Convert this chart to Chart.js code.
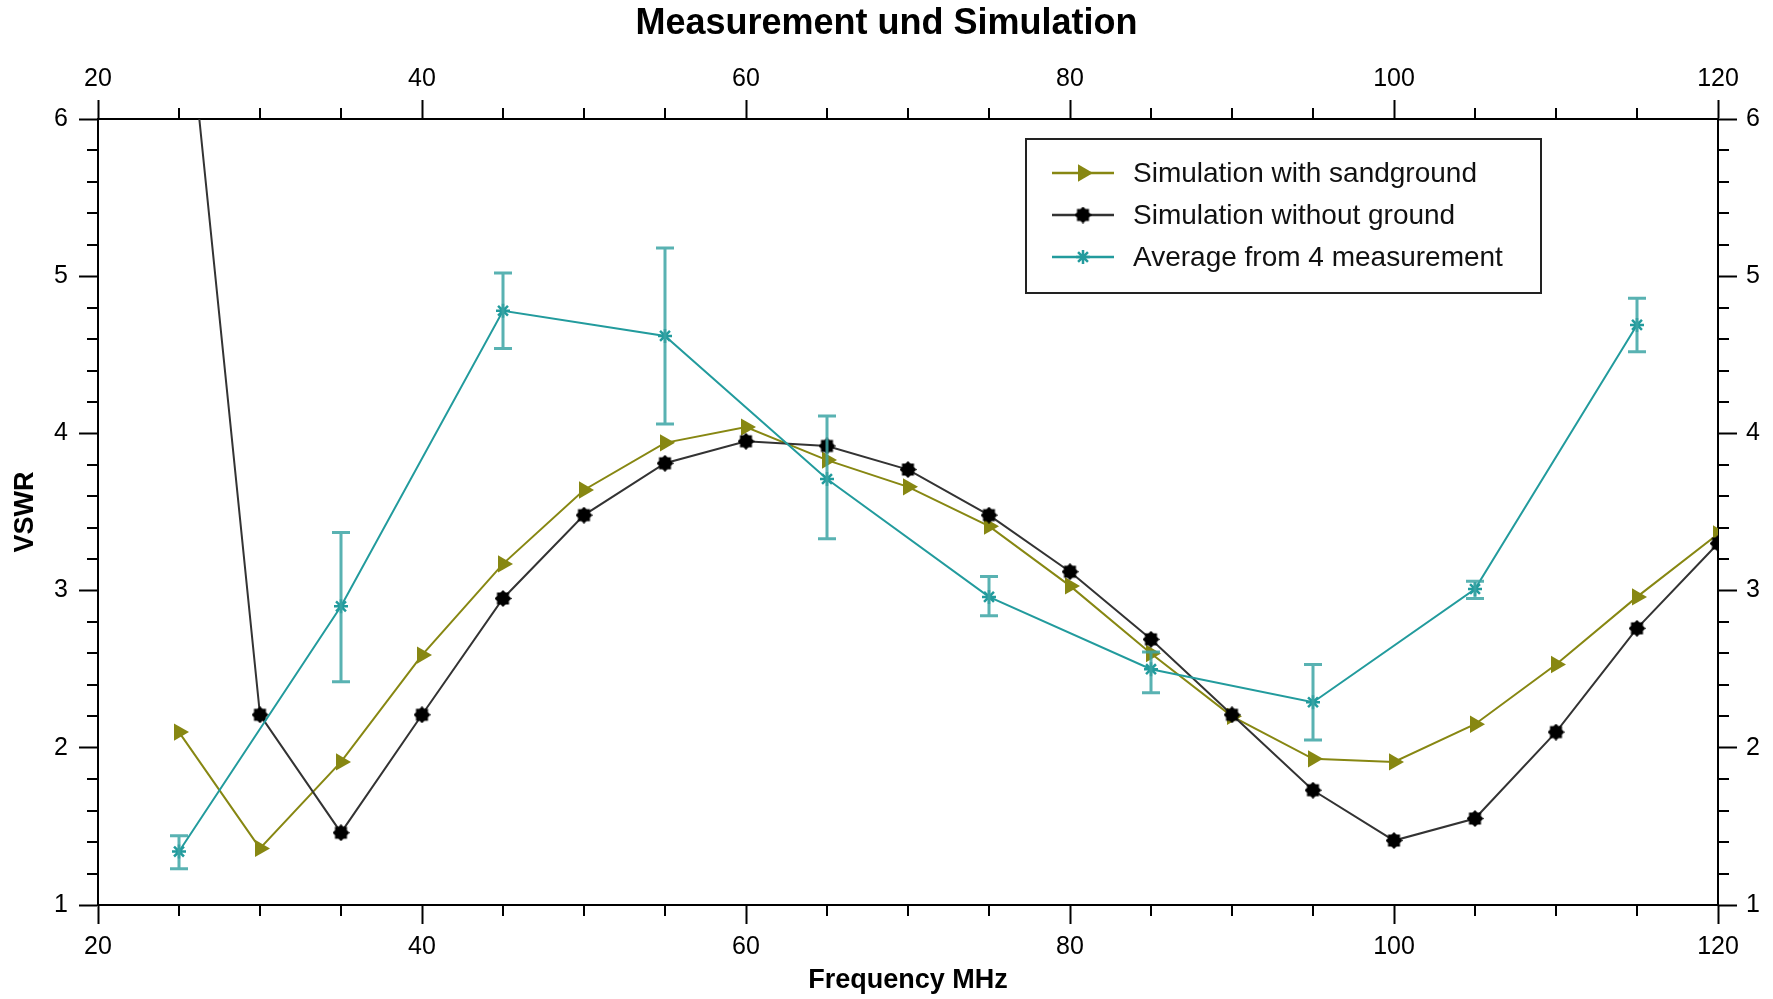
<!DOCTYPE html>
<html><head><meta charset="utf-8">
<script src="https://cdn.jsdelivr.net/npm/chart.js@4.4.0/dist/chart.umd.min.js"></script>
<style>html,body{margin:0;padding:0;background:#fff;}canvas{display:block}</style>
</head><body>
<canvas id="c" width="1773" height="999"></canvas>
<script>
// ---- data ----
const chartTitle = 'Measurement und Simulation';
const xTitle = 'Frequency MHz';
const yTitle = 'VSWR';
const seriesNames = ['Simulation with sandground', 'Simulation without ground', 'Average from 4 measurement'];
const freqSim = [25,30,35,40,45,50,55,60,65,70,75,80,85,90,95,100,105,110,115,120];
const vswrSand = [2.10,1.36,1.91,2.59,3.17,3.64,3.94,4.04,3.83,3.66,3.41,3.03,2.60,2.20,1.93,1.91,2.15,2.53,2.96,3.36];
const vswrNoGround = [7.27,2.21,1.46,2.21,2.95,3.48,3.81,3.95,3.92,3.77,3.48,3.12,2.69,2.21,1.73,1.41,1.55,2.10,2.76,3.30];
const freqMeas = [25,35,45,55,65,75,85,95,105,115];
const vswrMeas = [1.34,2.90,4.78,4.62,3.71,2.96,2.50,2.29,3.01,4.69];
const measLow  = [1.23,2.42,4.54,4.06,3.33,2.84,2.35,2.05,2.95,4.52];
const measHigh = [1.44,3.37,5.02,5.18,4.11,3.09,2.61,2.53,3.06,4.86];
const xTickValues = [20,40,60,80,100,120];
const yTickValues = [1,2,3,4,5,6];

// ---- styles ----
const FONT = '"Liberation Sans", Arial, Helvetica, sans-serif';
const OLIVE = '#878712';
const DARK = '#333333';
const TEAL = '#229b9d';
const TEAL_ERR = 'rgba(60,165,165,0.85)';

function makeStarMarker(size, color) {
  const c = document.createElement('canvas');
  c.width = size; c.height = size;
  const g = c.getContext('2d');
  const cx = size/2, cy = size/2, ro = size/2, ri = size*0.38;
  g.fillStyle = color;
  g.beginPath();
  for (let i = 0; i < 16; i++) {
    const r = i % 2 === 0 ? ro : ri;
    const a = i * Math.PI / 8;
    const px = cx + r * Math.sin(a), py = cy - r * Math.cos(a);
    if (i === 0) g.moveTo(px, py); else g.lineTo(px, py);
  }
  g.closePath(); g.fill();
  return c;
}
const starMarker = makeStarMarker(17, '#000');

const toPts = (xs, ys) => xs.map((x, i) => ({x: x, y: ys[i]}));

// minor ticks, error bars, legend, titles
const decoPlugin = {
  id: 'deco',
  afterDatasetsDraw(chart) {
    const ctx = chart.ctx, xs = chart.scales.x, ys = chart.scales.y, a = chart.chartArea;
    ctx.save();
    ctx.beginPath(); ctx.rect(a.left, a.top, a.right - a.left, a.bottom - a.top); ctx.clip();
    ctx.strokeStyle = TEAL_ERR; ctx.lineWidth = 3;
    freqMeas.forEach((f, i) => {
      const px = xs.getPixelForValue(f);
      const y1 = ys.getPixelForValue(measLow[i]), y2 = ys.getPixelForValue(measHigh[i]);
      ctx.beginPath();
      ctx.moveTo(px, y1); ctx.lineTo(px, y2);
      ctx.moveTo(px - 9, y1); ctx.lineTo(px + 9, y1);
      ctx.moveTo(px - 9, y2); ctx.lineTo(px + 9, y2);
      ctx.stroke();
    });
    ctx.restore();
  },
  afterDraw(chart) {
    const ctx = chart.ctx, xs = chart.scales.x, ys = chart.scales.y, a = chart.chartArea;
    ctx.save();
    // minor ticks
    ctx.strokeStyle = '#000'; ctx.lineWidth = 2;
    ctx.beginPath();
    for (let f = 20; f <= 120; f += 5) {
      if (f % 20 === 0) continue;
      const px = Math.round(xs.getPixelForValue(f));
      ctx.moveTo(px, a.bottom); ctx.lineTo(px, a.bottom + 11);
      ctx.moveTo(px, a.top); ctx.lineTo(px, a.top - 11);
    }
    for (let k = 0; k <= 25; k++) {
      if (k % 5 === 0) continue;
      const v = 1 + k * 0.2;
      const py = Math.round(ys.getPixelForValue(v));
      ctx.moveTo(a.left, py); ctx.lineTo(a.left - 11, py);
      ctx.moveTo(a.right, py); ctx.lineTo(a.right + 11, py);
    }
    ctx.stroke();

    // titles
    ctx.fillStyle = '#000';
    ctx.textAlign = 'center'; ctx.textBaseline = 'middle';
    ctx.font = 'bold 36px ' + FONT;
    ctx.fillText(chartTitle, chart.width / 2, 24);
    ctx.font = 'bold 27px ' + FONT;
    ctx.fillText(xTitle, (a.left + a.right) / 2, 981);
    ctx.save();
    ctx.translate(26, (a.top + a.bottom) / 2);
    ctx.rotate(-Math.PI / 2);
    ctx.fillText(yTitle, 0, 0);
    ctx.restore();

    // legend
    const bx = 1026, by = 139, bw = 515, bh = 154;
    ctx.fillStyle = '#fff';
    ctx.fillRect(bx, by, bw, bh);
    ctx.strokeStyle = '#222'; ctx.lineWidth = 2;
    ctx.strokeRect(bx, by, bw, bh);
    const rowsY = [173, 215, 257];
    const colors = [OLIVE, DARK, TEAL];
    rowsY.forEach((yy, i) => {
      ctx.strokeStyle = colors[i]; ctx.lineWidth = 2.5;
      ctx.beginPath(); ctx.moveTo(1052, yy); ctx.lineTo(1114, yy); ctx.stroke();
      const mx = 1083;
      if (i === 0) {
        ctx.fillStyle = OLIVE;
        ctx.beginPath();
        ctx.moveTo(mx + 10, yy); ctx.lineTo(mx - 5, yy - 8.7); ctx.lineTo(mx - 5, yy + 8.7);
        ctx.closePath(); ctx.fill();
      } else if (i === 1) {
        ctx.drawImage(starMarker, mx - 8.5, yy - 8.5);
      } else {
        ctx.strokeStyle = TEAL; ctx.lineWidth = 2.5;
        ctx.beginPath();
        const r = 7;
        ctx.moveTo(mx - r*0.707, yy - r*0.707); ctx.lineTo(mx + r*0.707, yy + r*0.707);
        ctx.moveTo(mx + r*0.707, yy - r*0.707); ctx.lineTo(mx - r*0.707, yy + r*0.707);
        ctx.moveTo(mx, yy - r); ctx.lineTo(mx, yy + r);
        ctx.moveTo(mx - r, yy); ctx.lineTo(mx + r, yy);
        ctx.stroke();
      }
      ctx.fillStyle = '#111';
      ctx.font = '28px ' + FONT;
      ctx.textAlign = 'left'; ctx.textBaseline = 'middle';
      ctx.fillText(seriesNames[i], 1133, yy + 1);
    });
    ctx.restore();
  }
};

const axisCommon = (pos, tickPad, fitFn) => ({
  type: 'linear',
  position: pos,
  ticks: { font: { family: FONT, size: 25 }, color: '#000', padding: tickPad },
  grid: { drawOnChartArea: false, drawTicks: true, tickLength: 19, tickWidth: 2, tickColor: '#000' },
  border: { display: true, color: '#000', width: 2 },
  afterFit: fitFn
});

const xScale = Object.assign(axisCommon('bottom', 8, s => { s.height = 94; }), { min: 20, max: 120 });
xScale.ticks.stepSize = 20;
const x2Scale = Object.assign(axisCommon('top', 6, s => { s.height = 119; }), { min: 20, max: 120 });
x2Scale.ticks.stepSize = 20;
const yScale = Object.assign(axisCommon('left', 11, s => { s.width = 98; }), { min: 1, max: 6 });
yScale.ticks.stepSize = 1;
const y2Scale = Object.assign(axisCommon('right', 9, s => { s.width = 55; }), { min: 1, max: 6 });
y2Scale.ticks.stepSize = 1;

new Chart(document.getElementById('c'), {
  type: 'line',
  data: {
    datasets: [
      {
        label: seriesNames[0], data: toPts(freqSim, vswrSand),
        borderColor: OLIVE, backgroundColor: OLIVE, borderWidth: 2,
        pointStyle: 'triangle', pointRotation: 90, pointRadius: 10, pointBorderWidth: 0,
        pointBackgroundColor: OLIVE, clip: 0, order: 2
      },
      {
        label: seriesNames[1], data: toPts(freqSim, vswrNoGround),
        borderColor: DARK, backgroundColor: '#000', borderWidth: 2,
        pointStyle: starMarker, pointRadius: 8, clip: 0, order: 1
      },
      {
        label: seriesNames[2], data: toPts(freqMeas, vswrMeas),
        borderColor: TEAL, backgroundColor: TEAL, borderWidth: 2,
        pointStyle: 'star', pointRadius: 7, pointBorderWidth: 2.5, pointBorderColor: TEAL,
        clip: 0, order: 0
      }
    ]
  },
  options: {
    responsive: false, animation: false, devicePixelRatio: 1,
    layout: { padding: 0 },
    elements: { line: { tension: 0 } },
    plugins: { legend: { display: false }, title: { display: false }, tooltip: { enabled: false } },
    scales: { x: xScale, x2: x2Scale, y: yScale, y2: y2Scale }
  },
  plugins: [decoPlugin]
});
</script>
</body></html>
